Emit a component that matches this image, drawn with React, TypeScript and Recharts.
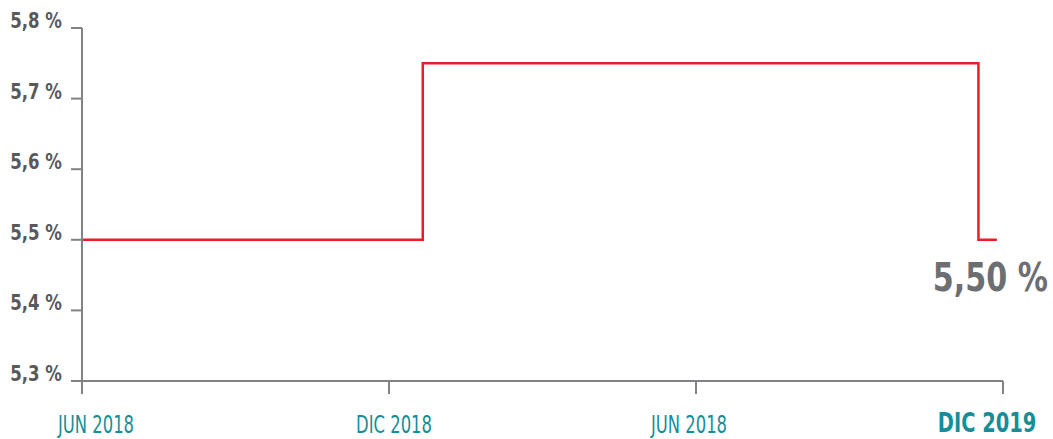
import { LineChart, Line, XAxis, YAxis } from 'recharts';

// x: 0 = JUN 2018, 1 = DIC 2018, 2 = JUN 2019, 3 = DIC 2019 (half-year steps)
const periods = [0, 1.11, 2.92, 2.98];
const rates = [5.5, 5.75, 5.5, 5.5];
const xTickLabels = ['JUN 2018', 'DIC 2018', 'JUN 2018', 'DIC 2019'];
const yTicks = [5.3, 5.4, 5.5, 5.6, 5.7, 5.8];
const lastLabel = '5,50 %';

const data = periods.map((p, i) => ({ x: p, rate: rates[i] }));

const FONT = '"DejaVu Sans Condensed", "DejaVu Sans", sans-serif';
const GRAY = '#808285';
const TEAL = '#148e98';
const RED = '#ec1c2a';

// condensed look: squeeze the text horizontally
const squeeze = (x: number, y: number, s: number) => `translate(${x},${y}) scale(${s},1)`;

// small nudges so the labels sit like in the original layout
const xLabelShift = [14, 5, -7, -16];

const YTick = (props: any) => {
  const { x, y, payload } = props;
  const txt = payload.value.toFixed(1).replace('.', ',') + ' %';
  return (
    <text transform={squeeze(x, y, 0.84)} textAnchor="end" fill="#58595b" fontFamily={FONT} fontWeight="bold" fontSize={22}>
      {txt}
    </text>
  );
};

const XTick = (props: any) => {
  const { x, y, payload, index } = props;
  const last = index === xTickLabels.length - 1;
  return (
    <text
      transform={squeeze(x + xLabelShift[index], y + (last ? 38 : 39), last ? 0.8 : 0.76)}
      textAnchor="middle"
      fill={TEAL}
      fontFamily={FONT}
      fontWeight={last ? 'bold' : 'normal'}
      fontSize={last ? 27 : 24}
    >
      {xTickLabels[payload.value]}
    </text>
  );
};

const EndLabel = (props: any) => {
  const { x, y, index } = props;
  if (index !== data.length - 1) return null;
  return (
    <text transform={squeeze(x + 51, y + 51, 0.86)} textAnchor="end" fill="#6d6e71" fontFamily={FONT} fontWeight="bold" fontSize={39}>
      {lastLabel}
    </text>
  );
};

export default function App() {
  return (
    <div style={{ position: 'absolute', left: 0, top: 0, background: '#fff' }}>
      <LineChart width={1053} height={439} data={data} margin={{ top: 28, right: 50, left: 0, bottom: 0 }}>
        <XAxis
          dataKey="x"
          type="number"
          domain={[0, 3]}
          ticks={[0, 1, 2, 3]}
          height={58}
          tickSize={13}
          tickMargin={0}
          axisLine={{ stroke: GRAY, strokeWidth: 2 }}
          tickLine={{ stroke: GRAY, strokeWidth: 2 }}
          tick={<XTick />}
          interval={0}
        />
        <YAxis
          type="number"
          domain={[5.3, 5.8]}
          ticks={yTicks}
          width={82}
          tickSize={11}
          tickMargin={9}
          axisLine={{ stroke: GRAY, strokeWidth: 2 }}
          tickLine={{ stroke: GRAY, strokeWidth: 2 }}
          tick={<YTick />}
          interval={0}
        />
        <Line
          type="stepAfter"
          dataKey="rate"
          stroke={RED}
          strokeWidth={2.5}
          dot={false}
          activeDot={false}
          isAnimationActive={false}
          label={<EndLabel />}
        />
      </LineChart>
    </div>
  );
}
